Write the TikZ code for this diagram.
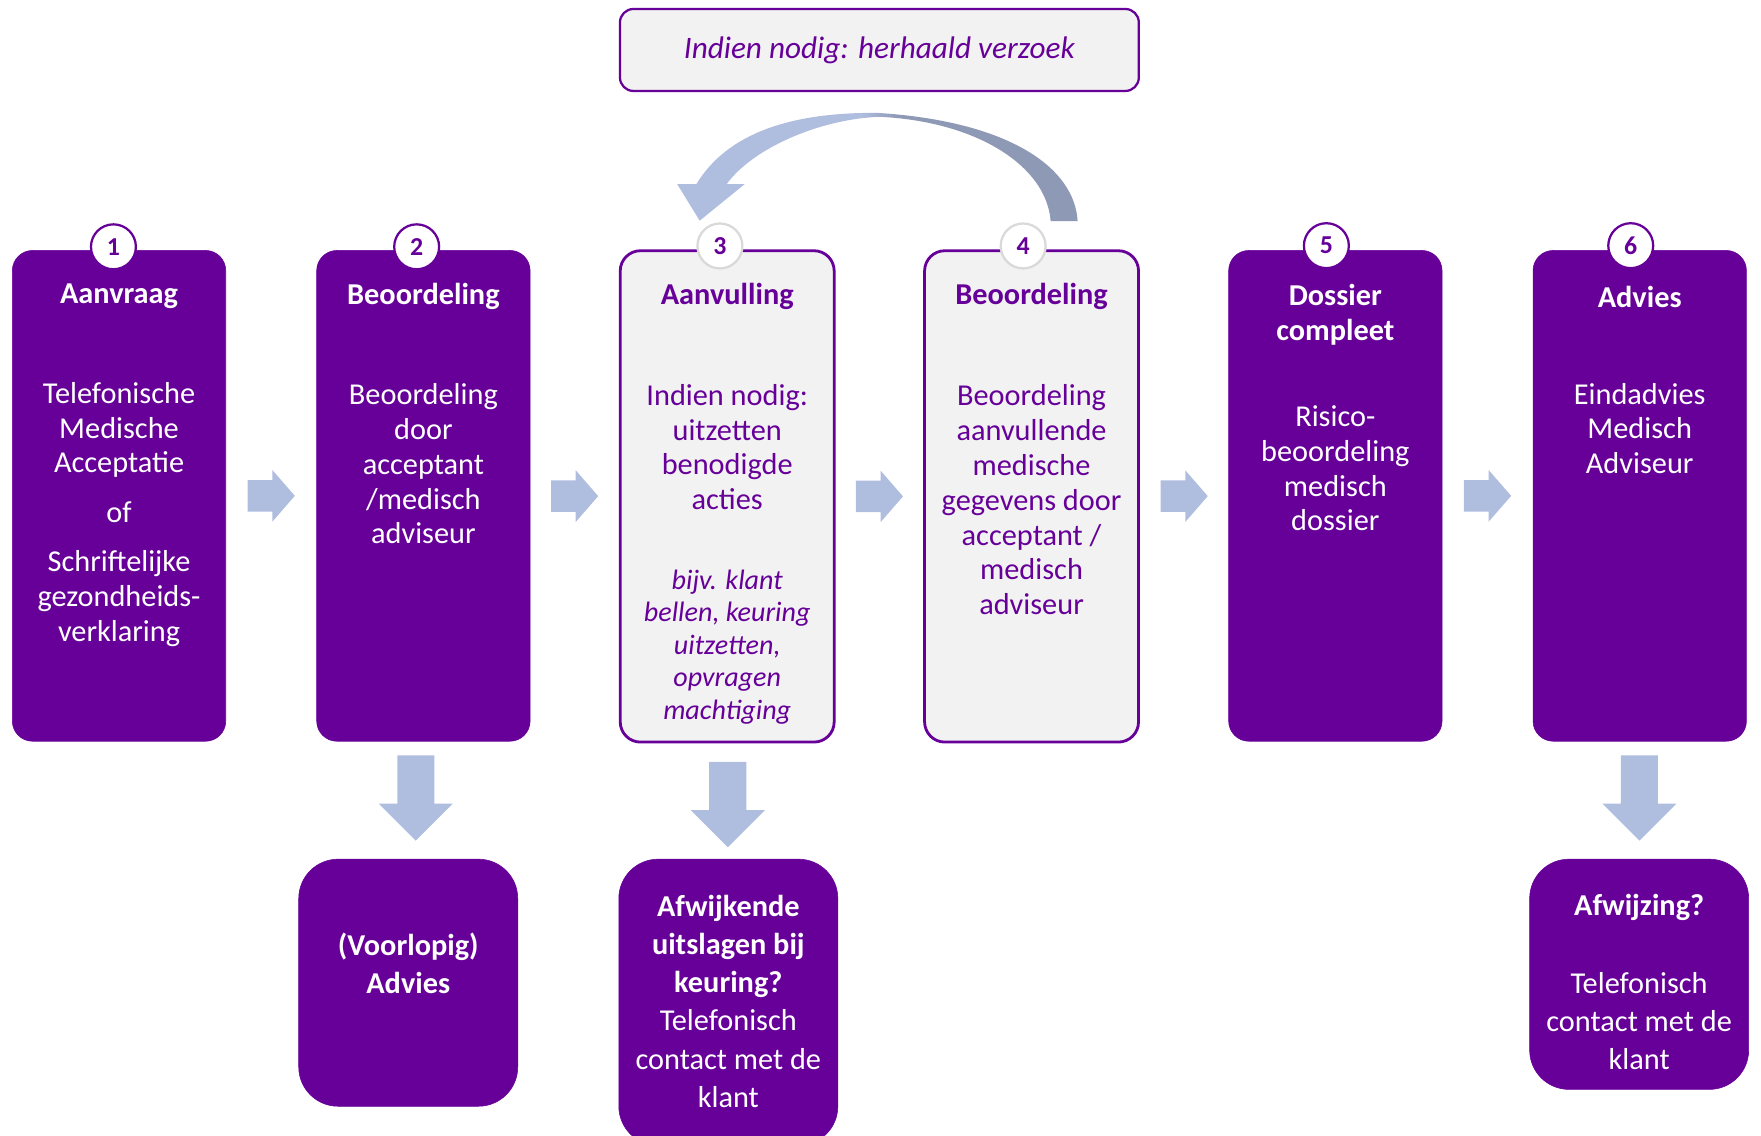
\documentclass[tikz,border=0pt]{standalone}
\usepackage{fontspec}
\setmainfont{Carlito}
\usetikzlibrary{calc}
\definecolor{pur}{RGB}{102,0,153}
\definecolor{lgray}{RGB}{242,242,242}
\definecolor{arrc}{RGB}{175,189,223}
\definecolor{ribdark}{RGB}{142,153,181}
\definecolor{ringgray}{RGB}{217,217,217}
\pgfdeclarehorizontalshading{ribbonshade}{100bp}{color(0bp)=(arrc); color(48bp)=(arrc); color(52.5bp)=(ribdark); color(100bp)=(ribdark)}
\newcommand\mybody{\fontsize{27}{31}\selectfont}
\newcommand\mybot{\fontsize{27}{34}\selectfont}
\newcommand\myital{\fontsize{25}{29}\selectfont\itshape}
\begin{document}
\begin{tikzpicture}[x=1pt,y=-1pt,
  pbox/.style={draw=pur,fill=pur,rounded corners=18pt,minimum width=190pt,minimum height=437pt,inner sep=0pt,line width=0.5pt},
  lbox/.style={draw=pur,fill=lgray,rounded corners=18pt,minimum width=190.5pt,minimum height=437.5pt,inner sep=0pt,line width=2.5pt},
  botbox/.style={draw=pur,fill=pur,rounded corners=35pt,minimum width=195pt,inner sep=0pt,line width=0.5pt},
  numc/.style={circle,fill=white,draw=pur,line width=2pt,minimum size=40pt,inner sep=0pt,text=pur,font=\fontsize{23}{25}\selectfont\bfseries},
  numg/.style={numc,draw=ringgray},
  ttl/.style={inner sep=0pt,align=center,font=\mybody\bfseries},
  wtxt/.style={inner sep=0pt,align=center,text=white},
  ptxt/.style={inner sep=0pt,align=center,text=pur},
  blk/.style={fill=arrc}]
\useasboundingbox (0,0) rectangle (1568,1011);

% top note
\node[draw=pur,fill=lgray,rounded corners=12pt,line width=2pt,minimum width=462pt,minimum height=73pt,inner sep=0pt,text=pur,font=\fontsize{27.8}{31}\selectfont\itshape] (note) at (783,44.5) {Indien nodig: herhaald verzoek};

% main boxes
\node[pbox] (b1) at (106,441.5) {};
\node[pbox] (b2) at (377,441.5) {};
\node[lbox] (b3) at (647.5,442) {};
\node[lbox] (b4) at (918.5,442) {};
\node[pbox] (b5) at (1189,441.5) {};
\node[pbox] (b6) at (1460,441.5) {};

% curved arrow (repeat loop from 4 back to 3)
\shade[shading=ribbonshade] (959.5,197) .. controls (957,150) and (900,108) .. (781,100.5)
  .. controls (705,100) and (648,118) .. (620,164) -- (603,164) -- (623,196.5) -- (663,164) -- (647,164)
  .. controls (670,132) and (730,106) .. (783,104)
  .. controls (870,108) and (932,148) .. (935.5,197) -- cycle;

% number circles
\node[numc] (n1) at ($(b1.north)+(-5,-3)$) {1};
\node[numc] (n2) at ($(b2.north)+(-6,-3)$) {2};
\node[numg] (n3) at ($(b3.north)+(-6.5,-3)$) {3};
\node[numg] (n4) at ($(b4.north)+(-7.5,-3)$) {4};
\node[numc] (n5) at ($(b5.north)+(-8,-4)$) {5};
\node[numc] (n6) at ($(b6.north)+(-8,-4)$) {6};

% titles
\node[ttl,text=white] (t1) at (106,263.5) {Aanvraag};
\node[ttl,text=white] (t2) at (377,263.5) {Beoordeling};
\node[ttl,text=pur] (t3) at (647.5,263.5) {Aanvulling};
\node[ttl,text=pur] (t4) at (918.5,263.5) {Beoordeling};
\node[ttl,text=white] (t5) at (1189,280) {Dossier\\compleet};
\node[ttl,text=white] (t6) at (1460,264) {Advies};

% body texts
\node[wtxt,font=\mybody] (d1) at (106,458) {Telefonische\\Medische\\Acceptatie\\[13pt]of\\[13pt]Schriftelijke\\gezondheids-\\verklaring};
\node[wtxt,font=\mybody] (d2) at (377,413) {Beoordeling\\door\\acceptant\\/medisch\\adviseur};
\node[ptxt,font=\mybody] (d3) at (647.5,398) {Indien nodig:\\uitzetten\\benodigde\\acties};
\node[ptxt,font=\myital] (e3) at (647.5,576) {bijv. klant\\bellen, keuring\\uitzetten,\\opvragen\\machtiging};
\node[ptxt,font=\mybody] (d4) at (918.5,445) {Beoordeling\\aanvullende\\medische\\gegevens door\\acceptant /\\medisch\\adviseur};
\node[wtxt,font=\mybody] (d5) at (1189,417) {Risico-\\beoordeling\\medisch\\dossier};
\node[wtxt,font=\mybody] (d6) at (1460,381.5) {Eindadvies\\Medisch\\Adviseur};

% bottom boxes
\node[botbox,minimum height=220pt] (v2) at (363.5,875) {};
\node[botbox,minimum height=255pt] (v3) at (648.5,892.5) {};
\node[botbox,minimum height=205pt] (v6) at (1459.5,867.5) {};
\node[wtxt,font=\mybot\bfseries] (w2) at (363.5,857.5) {(Voorlopig)\\Advies};
\node[wtxt,font=\mybot] (w3) at (648.5,891.5) {\textbf{Afwijkende}\\\textbf{uitslagen bij}\\\textbf{keuring?}\\Telefonisch\\contact met de\\klant};
\node[wtxt,font=\mybot] (w6) at (1459.5,874.5) {\textbf{Afwijzing?}\\[35pt]Telefonisch\\contact met de\\klant};

% right block arrows
\foreach \p/\q in {b1/b2,b2/b3,b3/b4,b4/b5,b5/b6}{
  \fill[blk] ($(\p.east)!.5!(\q.west)$) ++(-21,-14) -- ++(22,0) -- ++(0,-9) -- ++(20,23) -- ++(-20,23) -- ++(0,-9) -- ++(-22,0) -- cycle;
}
% down block arrows
\foreach \p/\q/\o in {b2/v2/-2,b3/v3/3,b6/v6/-2}{
  \fill[blk] ($(\p.south)!.5!(\q.north)+(0,\o)$) ++(-16.5,-38) -- ++(33,0) -- ++(0,43) -- ++(16.5,0) -- ++(-33,33) -- ++(-33,-33) -- ++(16.5,0) -- cycle;
}
\end{tikzpicture}
\end{document}
